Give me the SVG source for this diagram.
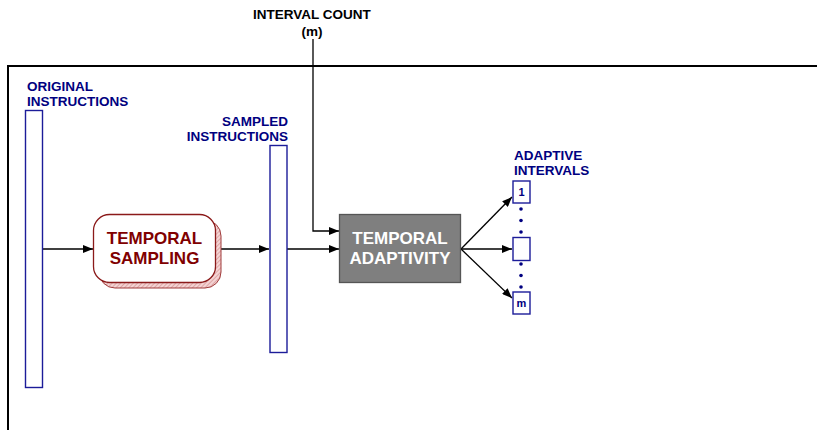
<svg xmlns="http://www.w3.org/2000/svg" width="817" height="430" viewBox="0 0 817 430">
  <style>
    .lbl { font-family: "Liberation Sans", Arial, sans-serif; font-weight: bold; font-size: 13.5px; fill: #000080; }
    .lblk { font-family: "Liberation Sans", Arial, sans-serif; font-weight: bold; font-size: 13.5px; fill: #000000; }
    .bar { fill: #ffffff; stroke: #1c1c99; stroke-width: 1.4; }
    .ibox { fill: #ffffff; stroke: #1c1c99; stroke-width: 1.4; }
    .num { font-family: "Liberation Sans", Arial, sans-serif; font-weight: bold; font-size: 11px; fill: #000080; text-anchor: middle; }
    .dot { fill: #000080; }
    .edge { fill: none; stroke: #000000; stroke-width: 1.3; }
    .frame { fill: none; stroke: #000000; stroke-width: 2; }
    .big { font-family: "Liberation Sans", Arial, sans-serif; font-weight: bold; font-size: 17px; text-anchor: middle; }
  </style>
  <defs>
    <marker id="arrow" viewBox="0 0 10 8" refX="10" refY="4" markerWidth="10" markerHeight="8" markerUnits="userSpaceOnUse" orient="auto">
      <path d="M0,0 L10,4 L0,8 Z" fill="#000000"/>
    </marker>
    <pattern id="hatch" width="3" height="3" patternUnits="userSpaceOnUse" patternTransform="rotate(45)">
      <rect width="3" height="3" fill="#f4d4d4"/>
      <line x1="0" y1="0" x2="0" y2="3" stroke="#c87878" stroke-width="1"/>
    </pattern>
  </defs>

  <!-- enclosing frame -->
  <path class="frame" d="M8,430 L8,66 L817,66"/>

  <!-- connectors -->
  <g id="connectors">
    <line class="edge" x1="43" y1="249" x2="93" y2="249" marker-end="url(#arrow)"/>
    <line class="edge" x1="216" y1="249" x2="269" y2="249" marker-end="url(#arrow)"/>
    <line class="edge" x1="287" y1="249" x2="339" y2="249" marker-end="url(#arrow)"/>
    <polyline class="edge" points="313,39 313,231 339,231" marker-end="url(#arrow)"/>
    <line class="edge" x1="461" y1="249" x2="512" y2="197" marker-end="url(#arrow)"/>
    <line class="edge" x1="461" y1="249" x2="512" y2="249" marker-end="url(#arrow)"/>
    <line class="edge" x1="461" y1="249" x2="512" y2="298" marker-end="url(#arrow)"/>
  </g>

  <!-- interval count input -->
  <g id="interval-count">
    <text class="lblk" x="312" y="19" text-anchor="middle">INTERVAL COUNT</text>
    <text class="lblk" x="312" y="36" text-anchor="middle">(m)</text>
  </g>

  <!-- original instruction stream -->
  <g id="original-instructions">
    <text class="lbl" x="27" y="91">ORIGINAL</text>
    <text class="lbl" x="27" y="106">INSTRUCTIONS</text>
    <rect class="bar" x="25.5" y="110.5" width="17" height="277"/>
  </g>

  <!-- temporal sampling stage -->
  <g id="temporal-sampling">
    <rect x="99" y="220" width="122" height="68" rx="16" ry="16" fill="url(#hatch)" stroke="#a03a3a" stroke-width="1"/>
    <rect x="93.5" y="214.5" width="122" height="68" rx="16" ry="16" fill="#ffffff" stroke="#8b1a1a" stroke-width="1.3"/>
    <text class="big" x="154.5" y="244" fill="#800000">TEMPORAL</text>
    <text class="big" x="154.5" y="264" fill="#800000">SAMPLING</text>
  </g>

  <!-- sampled instruction stream -->
  <g id="sampled-instructions">
    <text class="lbl" x="288" y="126" text-anchor="end">SAMPLED</text>
    <text class="lbl" x="288" y="141" text-anchor="end">INSTRUCTIONS</text>
    <rect class="bar" x="270" y="145.5" width="17" height="207"/>
  </g>

  <!-- temporal adaptivity stage -->
  <g id="temporal-adaptivity">
    <rect x="339.5" y="214.5" width="121" height="68" fill="#7f7f7f" stroke="#555555" stroke-width="1.3"/>
    <text class="big" x="400" y="244" fill="#ffffff">TEMPORAL</text>
    <text class="big" x="400" y="264" fill="#ffffff">ADAPTIVITY</text>
  </g>

  <!-- adaptive intervals -->
  <g id="adaptive-intervals">
    <text class="lbl" x="514" y="160">ADAPTIVE</text>
    <text class="lbl" x="514" y="175">INTERVALS</text>
    <g id="interval-1">
      <rect class="ibox" x="513" y="181" width="17" height="22"/>
      <text class="num" x="521.5" y="196">1</text>
    </g>
    <g id="interval-mid">
      <rect class="ibox" x="513" y="237.5" width="17" height="23"/>
    </g>
    <g id="interval-m">
      <rect class="ibox" x="513" y="292" width="17" height="22"/>
      <text class="num" x="521.5" y="307">m</text>
    </g>
    <circle class="dot" cx="521" cy="209" r="1.8"/>
    <circle class="dot" cx="521" cy="220.5" r="1.8"/>
    <circle class="dot" cx="521" cy="232" r="1.8"/>
    <circle class="dot" cx="521" cy="264" r="1.8"/>
    <circle class="dot" cx="521" cy="275.5" r="1.8"/>
    <circle class="dot" cx="521" cy="287" r="1.8"/>
  </g>
</svg>
